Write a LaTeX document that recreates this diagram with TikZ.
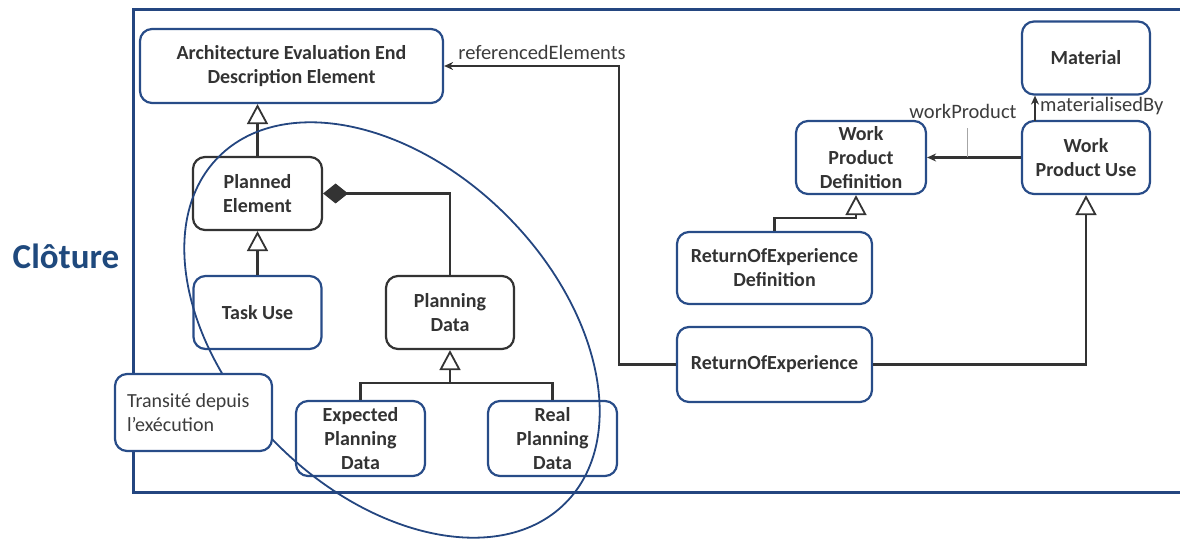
\documentclass[tikz,border=0pt]{standalone}
\usepackage{fontspec}
\setmainfont{Carlito}
\usetikzlibrary{arrows.meta}
\definecolor{frameblue}{RGB}{36,70,128}
\definecolor{boxblue}{RGB}{40,76,136}
\definecolor{titleblue}{RGB}{31,73,125}
\definecolor{ink}{RGB}{51,51,51}
\definecolor{txt}{RGB}{60,60,60}
\tikzset{
  box/.style={draw=boxblue, line width=2.2pt, rounded corners=12pt, align=center, inner sep=0pt,
    font=\fontsize{20}{24}\selectfont\bfseries, text=ink},
  graybox/.style={box, draw=ink},
  conn/.style={draw=ink, line width=2.4pt},
  gen/.style={conn, -{Triangle[open, length=20pt, width=21pt, line width=1.8pt]}},
  comp/.style={conn, -{Diamond[length=25pt, width=20pt]}},
  assoc/.style={conn, -{Stealth[length=9pt, width=8pt]}},
  lbl/.style={font=\fontsize{20.5}{24}\selectfont, text=txt, inner sep=0pt},
}
\begin{document}
\begin{tikzpicture}[x=1pt,y=1pt]
\useasboundingbox (0,0) rectangle (1180,-540);
% outer frame
\draw[frameblue, line width=3pt] (1182,-10) -- (133,-10) -- (133,-492) -- (1182,-492);
\node[font=\fontsize{35}{40}\selectfont\bfseries, text=titleblue, inner sep=0pt] (clo) at (66,-256) {Clôture};
% nodes
\node[box, minimum width=303, minimum height=74] (aeede) at (291.5,-66) {Architecture Evaluation End\\Description Element};
\node[graybox, minimum width=129, minimum height=73] (pe) at (257.5,-193.5) {Planned\\Element};
\node[box, minimum width=128, minimum height=73] (tu) at (257.5,-312.5) {Task Use};
\node[graybox, minimum width=128, minimum height=73] (pd) at (450,-312.5) {Planning\\Data};
\node[box, minimum width=129, minimum height=75] (epd) at (360.5,-438.5) {Expected\\Planning\\Data};
\node[box, minimum width=129, minimum height=75] (rpd) at (552.5,-438.5) {Real\\Planning\\Data};
\node[box, minimum width=128, minimum height=73] (mat) at (1086,-58) {Material};
\node[box, minimum width=128, minimum height=73] (wpu) at (1086,-157.5) {Work\\Product Use};
\node[box, minimum width=130, minimum height=73] (wpd) at (861,-157.5) {Work\\Product\\Definition};
\node[box, minimum width=195, minimum height=72] (roed) at (774.5,-268) {ReturnOfExperience\\Definition};
\node[box, minimum width=195, minimum height=75] (roe) at (774.5,-364.5) {ReturnOfExperience};
% connectors
\draw[gen] (pe.north) -- (pe.north |- aeede.south);
\draw[gen] (tu.north) -- (pe.south);
\draw[comp] (pd.north) |- (pe.east);
\coordinate (j1) at (450,-383);
\draw[conn] (epd.north) |- (j1) -| (rpd.north);
\draw[gen] (j1) -- (pd.south);
\draw[gen] (roe.east) -| (wpu.south);
\coordinate (r1) at (619,-66);
\draw[assoc] (roe.west) -| (r1) -- (aeede.east);
\coordinate (g1) at (856,-218);
\draw[gen] (roed.north) |- (g1) -- (g1 |- wpd.south);
\draw[assoc] (wpu.west) -- (wpd.east);
\coordinate (t1) at (967,-157.5);
\coordinate (t2) at (967,-128);
\draw[gray!70, line width=0.8pt] (t1) -- (t2);
\coordinate (m1) at (1035,-121);
\draw[assoc] (m1) -- (m1 |- mat.south);
% labels
\node[lbl] (lref) at (542,-52) {referencedElements};
\node[lbl] (lwp) at (963,-111) {workProduct};
\node[lbl, anchor=west] (lmat) at (1040,-106) {materialisedBy};
% ellipse
\draw[frameblue, line width=1.8pt, rotate around={-45:(392,-330)}] (392,-330) ellipse [x radius=245, y radius=162];
% note box
\node[draw=boxblue, fill=white, line width=2.2pt, rounded corners=12pt, minimum width=157, minimum height=77,
  text width=133, align=flush left, inner sep=0pt, font=\fontsize{20}{24}\selectfont, text=txt] (trans) at (193.5,-412.5)
  {Transité depuis\\l’exécution};
\end{tikzpicture}
\end{document}
